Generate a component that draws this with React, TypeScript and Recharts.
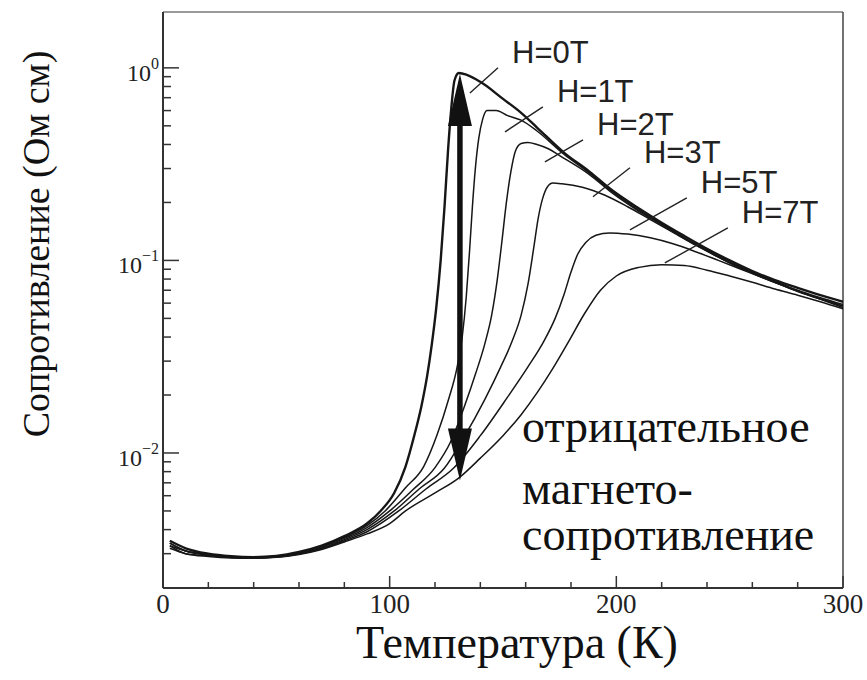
import React from 'react';
import { LineChart, Line, XAxis, YAxis, ReferenceLine } from 'recharts';

// ---------- data (T in K, resistivity in Ohm*cm) ----------
const fieldNames = ['H=0T', 'H=1T', 'H=2T', 'H=3T', 'H=5T', 'H=7T'];

const h0T = [3, 10, 20, 30, 40, 50, 60, 70, 80, 90, 96, 102, 107, 111, 114, 116.5, 118.5, 120.5, 122.5, 124.2, 125.8, 127.2, 128.6, 130.5, 134, 140, 150, 158, 165, 177, 188, 198, 210, 220, 230, 240, 250, 260, 270, 280, 290, 300];
const h0R = [0.0035, 0.0032, 0.003, 0.00291, 0.00288, 0.00292, 0.00306, 0.0033, 0.0037, 0.0043, 0.005, 0.0062, 0.0085, 0.0125, 0.0175, 0.025, 0.036, 0.056, 0.1, 0.19, 0.38, 0.62, 0.86, 0.94, 0.92, 0.846, 0.69, 0.584, 0.49, 0.362, 0.29, 0.232, 0.186, 0.157, 0.134, 0.115, 0.1, 0.088, 0.079, 0.072, 0.066, 0.061];

const h1T = [3, 10, 20, 30, 40, 50, 60, 70, 80, 90, 98, 107, 115, 121, 126, 129.5, 132, 133.8, 135.2, 136.5, 137.8, 139.3, 141, 143, 147, 152, 158, 165, 177, 188, 198, 210, 220, 230, 240, 250, 260, 270, 280, 290, 300];
const h1R = [0.0034, 0.0031, 0.00298, 0.0029, 0.00287, 0.00291, 0.00304, 0.00327, 0.00365, 0.0042, 0.005, 0.0066, 0.0085, 0.0125, 0.019, 0.027, 0.04, 0.065, 0.11, 0.19, 0.3, 0.43, 0.54, 0.6, 0.6, 0.565, 0.535, 0.47, 0.355, 0.285, 0.228, 0.182, 0.155, 0.131, 0.113, 0.098, 0.087, 0.078, 0.07, 0.064, 0.059];

const h2T = [3, 10, 20, 30, 40, 50, 60, 70, 80, 90, 100, 110, 120, 127, 133, 138, 142, 145, 147.5, 149.5, 151.5, 153.5, 155.5, 158, 161, 165, 170, 175, 188, 198, 210, 220, 230, 240, 250, 260, 270, 280, 290, 300];
const h2R = [0.0034, 0.0031, 0.00296, 0.00289, 0.00286, 0.0029, 0.00302, 0.00324, 0.0036, 0.0041, 0.005, 0.0064, 0.0084, 0.0115, 0.0175, 0.026, 0.037, 0.052, 0.08, 0.125, 0.2, 0.29, 0.37, 0.405, 0.41, 0.4, 0.38, 0.35, 0.28, 0.225, 0.18, 0.153, 0.13, 0.112, 0.097, 0.086, 0.077, 0.069, 0.063, 0.058];

const h3T = [3, 10, 20, 30, 40, 50, 60, 70, 80, 90, 102, 113, 124, 133, 142, 149, 154, 158, 161, 163.5, 165.5, 167.5, 169.5, 172, 176, 185, 195, 205, 215, 225, 235, 245, 255, 265, 275, 285, 300];
const h3R = [0.0033, 0.0031, 0.00295, 0.00288, 0.00286, 0.00289, 0.003, 0.0032, 0.00355, 0.004, 0.005, 0.0065, 0.0083, 0.0122, 0.019, 0.028, 0.038, 0.052, 0.075, 0.115, 0.165, 0.21, 0.24, 0.252, 0.25, 0.24, 0.218, 0.19, 0.163, 0.14, 0.12, 0.104, 0.091, 0.081, 0.073, 0.066, 0.058];

const h5T = [3, 10, 20, 30, 40, 50, 60, 70, 80, 90, 104, 116, 128, 140, 152, 161, 168, 173, 177, 180, 183, 186.5, 191, 197, 205, 215, 225, 235, 245, 255, 265, 275, 285, 300];
const h5R = [0.0033, 0.003, 0.00293, 0.00287, 0.00285, 0.00288, 0.00299, 0.00318, 0.0035, 0.0039, 0.005, 0.0065, 0.0083, 0.0123, 0.0195, 0.028, 0.038, 0.05, 0.067, 0.087, 0.108, 0.124, 0.135, 0.139, 0.137, 0.131, 0.122, 0.111, 0.1, 0.09, 0.081, 0.073, 0.066, 0.057];

const h7T = [3, 10, 20, 30, 40, 50, 60, 70, 80, 90, 100, 107, 120, 131, 140, 150, 158, 165, 172, 179, 186, 193, 200, 210, 220, 230, 240, 250, 260, 270, 280, 290, 300];
const h7R = [0.0032, 0.003, 0.0029, 0.00285, 0.00284, 0.00287, 0.00297, 0.00315, 0.00345, 0.0038, 0.0043, 0.005, 0.0062, 0.0075, 0.0094, 0.0123, 0.0158, 0.0205, 0.0275, 0.038, 0.053, 0.07, 0.083, 0.092, 0.095, 0.094, 0.089, 0.083, 0.077, 0.071, 0.066, 0.061, 0.056];

// label leader lines (start and end in data coordinates)
const leaderStartT = [135.4, 150.9, 168.5, 189.7, 206, 221.4];
const leaderStartR = [0.741, 0.465, 0.325, 0.214, 0.144, 0.097];
const leaderEndT = [147.8, 167.6, 185.3, 206, 231.1, 249.2];
const leaderEndR = [1.0, 0.627, 0.423, 0.303, 0.211, 0.1475];

// double arrow (negative magnetoresistance) at T = 131 K
const arrowT = 131;
const arrowTop = 0.93;
const arrowBottom = 0.0072;

const xTicks = [0, 20, 40, 60, 80, 100, 120, 140, 160, 180, 200, 220, 240, 260, 280, 300];
const yTicks = [
  0.003, 0.004, 0.005, 0.006, 0.007, 0.008, 0.009, 0.01,
  0.02, 0.03, 0.04, 0.05, 0.06, 0.07, 0.08, 0.09, 0.1,
  0.2, 0.3, 0.4, 0.5, 0.6, 0.7, 0.8, 0.9, 1,
];
const yDomain = [0.00199, 1.95];

const annotationLines = ['отрицательное', 'магнето-', 'сопротивление'];
const xTitle = 'Температура (К)';
const yTitle = 'Сопротивление (Ом см)';

const seriesT = [h0T, h1T, h2T, h3T, h5T, h7T];
const seriesR = [h0R, h1R, h2R, h3R, h5R, h7R];
const series = fieldNames.map((name, k) => ({
  name,
  data: seriesT[k].map((t, i) => ({ T: t, r: seriesR[k][i] })),
}));

const INK = '#161616';
const SERIF = 'Liberation Serif';
const SANS = 'Liberation Sans';

const YTick = (props: any) => {
  const { x, y, payload } = props;
  const v = payload.value as number;
  const lg = Math.log10(v);
  const exp = Math.round(lg);
  const major = Math.abs(lg - exp) < 1e-6;
  return (
    <g>
      <line x1={x} x2={x + (major ? 16 : 8)} y1={y} y2={y} stroke="#333" strokeWidth={1.5} />
      {major && (
        <text x={x - 4} y={y + 13} textAnchor="end" style={{ fontFamily: SERIF, fontSize: 24 }} fill="#222">
          10
          <tspan dy={-12} style={{ fontSize: 16 }}>{exp === 0 ? '0' : '\u2212' + Math.abs(exp)}</tspan>
        </text>
      )}
    </g>
  );
};

const XTick = (props: any) => {
  const { x, y, payload } = props;
  const v = payload.value as number;
  const major = v % 100 === 0;
  return (
    <g>
      <line x1={x} x2={x} y1={y} y2={y - (major ? 12 : 6)} stroke="#333" strokeWidth={1.5} />
      {major && (
        <text x={x} y={y + 25} textAnchor="middle" style={{ fontFamily: SERIF, fontSize: 27 }} fill="#222">
          {v}
        </text>
      )}
    </g>
  );
};

const ArrowShape = (p: any) => {
  const { x1, y1, x2, y2 } = p;
  const top = Math.min(y1, y2);
  const bot = Math.max(y1, y2);
  const x = x1;
  const hw = 12;
  const hl = 52;
  return (
    <g>
      <line x1={x} x2={x} y1={top + hl - 4} y2={bot - hl + 4} stroke="#111" strokeWidth={5.5} />
      <polygon points={`${x},${top} ${x - hw},${top + hl} ${x + hw},${top + hl}`} fill="#111" />
      <polygon points={`${x},${bot} ${x - hw},${bot - hl} ${x + hw},${bot - hl}`} fill="#111" />
    </g>
  );
};

const makeLeader = (label: string) => (p: any) => {
  const { x1, y1, x2, y2 } = p;
  return (
    <g>
      <line x1={x1} y1={y1} x2={x2} y2={y2} stroke="#222" strokeWidth={1.4} />
      <text x={x2 + 14} y={y2 - 5} style={{ fontFamily: SANS, fontSize: 31 }} fill="#222">
        {label}
      </text>
    </g>
  );
};

export default function App() {
  return (
    <div style={{ position: 'absolute', left: 0, top: 0, width: 867, height: 680, background: '#fff' }}>
      <LineChart
        width={867}
        height={680}
        margin={{ top: 12, right: 24, bottom: 52, left: 103 }}
      >
        <XAxis
          type="number"
          dataKey="T"
          domain={[0, 300]}
          ticks={xTicks}
          interval={0}
          allowDataOverflow
          tickSize={0}
          tickMargin={0}
          tickLine={false}
          tick={<XTick />}
          height={40}
          axisLine={{ stroke: '#333', strokeWidth: 2 }}
        />
        <YAxis
          type="number"
          scale="log"
          domain={yDomain}
          ticks={yTicks}
          interval={0}
          allowDataOverflow
          tickSize={0}
          tickMargin={0}
          tickLine={false}
          tick={<YTick />}
          width={60}
          axisLine={{ stroke: '#333', strokeWidth: 2 }}
        />
        <ReferenceLine y={yDomain[1]} stroke="#9a9a9a" strokeWidth={2} ifOverflow="visible" />
        <ReferenceLine x={300} stroke="#444" strokeWidth={1.5} ifOverflow="visible" />
        {series.map((s, k) => (
          <Line
            key={s.name}
            data={s.data}
            dataKey="r"
            name={s.name}
            type="monotone"
            stroke={INK}
            strokeWidth={k === 0 ? 2.4 : 1.5}
            dot={false}
            activeDot={false}
            isAnimationActive={false}
          />
        ))}
        <ReferenceLine
          segment={[{ x: arrowT, y: arrowTop }, { x: arrowT, y: arrowBottom }]}
          shape={ArrowShape}
          ifOverflow="visible"
        />
        {fieldNames.map((name, k) => (
          <ReferenceLine
            key={'lead' + k}
            segment={[
              { x: leaderStartT[k], y: leaderStartR[k] },
              { x: leaderEndT[k], y: leaderEndR[k] },
            ]}
            shape={makeLeader(name)}
            ifOverflow="visible"
          />
        ))}
      </LineChart>
      <svg
        width={867}
        height={680}
        style={{ position: 'absolute', left: 0, top: 0, pointerEvents: 'none' }}
      >
        <text x={517} y={658} textAnchor="middle" style={{ fontFamily: SERIF, fontSize: 46 }} fill="#111">
          {xTitle}
        </text>
        <text
          x={36}
          y={244}
          transform="rotate(-90, 36, 244)"
          textAnchor="middle"
          dominantBaseline="central"
          style={{ fontFamily: SERIF, fontSize: 38 }}
          fill="#111"
        >
          {yTitle}
        </text>
        {annotationLines.map((line, i) => (
          <text key={i} x={522} y={[442, 504, 550][i]} style={{ fontFamily: SERIF, fontSize: 46 }} fill="#111">
            {line}
          </text>
        ))}
      </svg>
    </div>
  );
}
